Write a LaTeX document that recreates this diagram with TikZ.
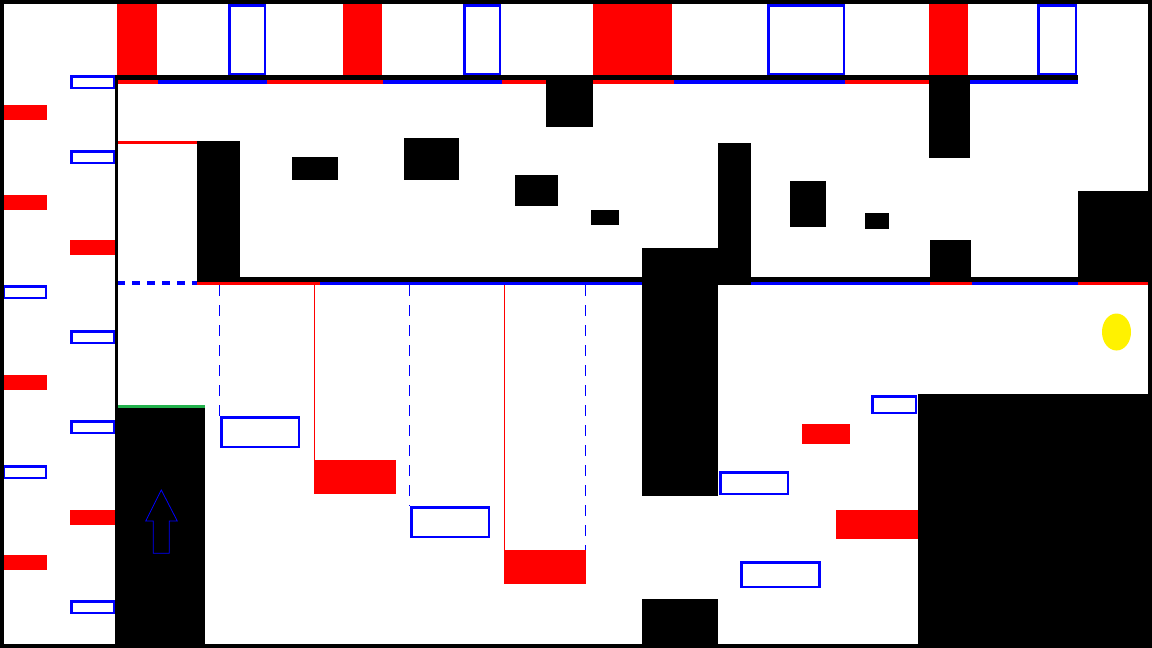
\documentclass[tikz,border=0pt]{standalone}
\usetikzlibrary{positioning}
\definecolor{lampyellow}{RGB}{255,242,0}
\definecolor{edgegreen}{RGB}{34,177,76}
\begin{document}
\begin{tikzpicture}[x=1pt,y=-1pt,
redblock/.style={fill=red},
bluebox/.style={draw=blue,line width=2.5pt},
wall/.style={fill=black},
redline/.style={draw=red,line width=3.5pt},
blueline/.style={draw=blue,line width=3.5pt},
guide/.style={draw=blue,line width=1pt,dash pattern=on 11pt off 9pt},
redguide/.style={draw=red,line width=1.2pt}]
\useasboundingbox (0,0) rectangle (1152,648);
\fill[white] (0,0) rectangle (1152,648);
% top strip
\fill[redblock] (117,3) rectangle (157,75);
\draw[bluebox] (229.25,5.25) rectangle (264.75,73.75);
\fill[redblock] (343,3) rectangle (382,75);
\draw[bluebox] (464.25,5.25) rectangle (499.75,73.75);
\fill[redblock] (593,3) rectangle (672,75);
\draw[bluebox] (768.25,5.25) rectangle (843.75,73.75);
\fill[redblock] (929,3) rectangle (968,75);
\draw[bluebox] (1038.25,5.25) rectangle (1075.75,73.75);
% left panel
\draw[bluebox] (71.25,76.25) rectangle (113.75,87.75);
\fill[redblock] (2,105) rectangle (47,120);
\draw[bluebox] (71.25,151.25) rectangle (113.75,162.75);
\fill[redblock] (2,195) rectangle (47,210);
\fill[redblock] (70,240) rectangle (115,255);
\draw[bluebox] (3.25,286.25) rectangle (45.75,297.75);
\draw[bluebox] (71.25,331.25) rectangle (113.75,342.75);
\fill[redblock] (2,375) rectangle (47,390);
\draw[bluebox] (71.25,421.25) rectangle (113.75,432.75);
\draw[bluebox] (3.25,466.25) rectangle (45.75,477.75);
\fill[redblock] (70,510) rectangle (115,525);
\fill[redblock] (2,555) rectangle (47,570);
\draw[bluebox] (71.25,601.25) rectangle (113.75,612.75);
% upper hall
\draw[redline] (158,82) -- (117,82);
\draw[blueline] (158,82) -- (267,82);
\draw[redline] (267,82) -- (383,82);
\draw[blueline] (383,82) -- (502,82);
\draw[redline] (502,82) -- (546,82);
\draw[redline] (593,82) -- (674,82);
\draw[blueline] (674,82) -- (845,82);
\draw[redline] (845,82) -- (930,82);
\draw[blueline] (970,82) -- (1078,82);
\draw[line width=5pt] (115,77.5) -- (1078,77.5);
\draw[draw=red,line width=3pt] (117,142.5) -- (197,142.5);
\fill[wall] (197,141) rectangle (240,280);
\fill[wall] (292,157) rectangle (338,180);
\fill[wall] (404,138) rectangle (459,180);
\fill[wall] (515,175) rectangle (558,206);
\fill[wall] (591,210) rectangle (619,225);
\fill[wall] (546,75) rectangle (593,127);
\fill[wall] (718,143) rectangle (751,285);
\fill[wall] (790,181) rectangle (826,227);
\fill[wall] (865,213) rectangle (889,229);
\fill[wall] (929,75) rectangle (970,158);
\fill[wall] (930,240) rectangle (971,280);
\fill[wall] (1078,191) rectangle (1150,280);
% lower hall edge
\draw[blueline,dash pattern=on 7.5pt off 7.5pt] (117,283) -- (197,283);
\draw[redline] (197,283) -- (320,283);
\draw[blueline] (320,283) -- (642,283);
\draw[blueline] (751,283) -- (930,283);
\draw[redline] (930,283) -- (972,283);
\draw[blueline] (972,283) -- (1078,283);
\draw[redline] (1078,283) -- (1150,283);
\draw[line width=4.5pt] (197,279.5) -- (1150,279.5);
\fill[wall] (642,248) rectangle (718,496);
% lower rooms
\draw[guide] (219.5,285) -- (219.5,416);
\draw[redguide] (314.5,285) -- (314.5,460);
\draw[guide] (409.5,285) -- (409.5,506);
\draw[redguide] (504.5,285) -- (504.5,550);
\draw[guide] (585.5,285) -- (585.5,550);
\draw[bluebox] (221.25,417.25) rectangle (298.75,446.75);
\fill[redblock] (314,460) rectangle (396,494);
\draw[bluebox] (411.25,507.25) rectangle (488.75,536.75);
\fill[redblock] (504,550) rectangle (586,584);
\draw[bluebox] (720.25,472.25) rectangle (787.75,493.75);
\draw[bluebox] (741.25,562.25) rectangle (819.25,586.75);
\draw[bluebox] (872.25,396.25) rectangle (915.75,412.75);
\fill[redblock] (802,424) rectangle (850,444);
\fill[redblock] (836,510) rectangle (918,539);
\fill[wall] (642,599) rectangle (718,648);
\fill[wall] (918,394) rectangle (1150,648);
\fill[lampyellow] (1116.5,332) ellipse [x radius=14.5,y radius=18.5];
% entrance
\fill[wall] (117,406) rectangle (205,648);
\draw[edgegreen,line width=3pt] (117,406) -- (205,406);
\draw[blue,line width=0.8pt] (161.3,490) -- (177.3,521) -- (169.3,521) -- (169.3,553.3)
  -- (153.3,553.3) -- (153.3,521) -- (145.7,521) -- cycle;
\draw[line width=3pt] (116.5,75) -- (116.5,648);
\draw[line width=4pt] (2,2) rectangle (1150,646);
\end{tikzpicture}
\end{document}
